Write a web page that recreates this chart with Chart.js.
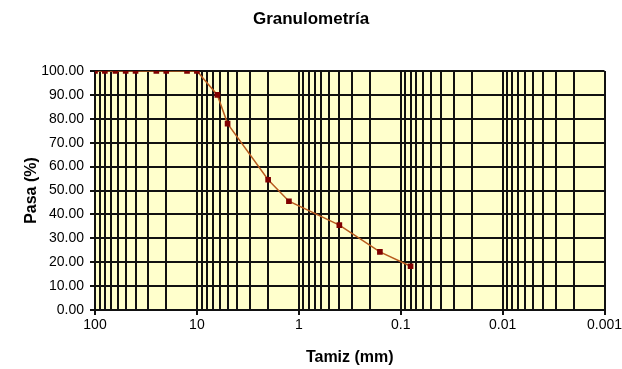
<!DOCTYPE html>
<html>
<head>
<meta charset="utf-8">
<script src="https://cdn.jsdelivr.net/npm/chart.js@4/dist/chart.umd.min.js"></script>
<style>
html,body{margin:0;padding:0;background:#fff;}
#wrap{width:622px;height:369px;position:relative;}
</style>
</head>
<body>
<div id="wrap"><canvas id="c" width="622" height="369"></canvas></div>
<script>
const sieveSizes = [100, 80, 63, 50, 40, 25, 20, 12.5, 10, 6.3, 5, 2, 1.25, 0.4, 0.16, 0.08];
const passing    = [100, 100, 100, 100, 100, 100, 100, 100, 100, 90.0, 78.0, 54.5, 45.5, 35.5, 24.3, 18.3];
const xTickLabels = ['100', '10', '1', '0.1', '0.01', '0.001'];
const yTickValues = [0, 10, 20, 30, 40, 50, 60, 70, 80, 90, 100];

const points = sieveSizes.map((s, i) => ({x: s, y: passing[i]}));
const decades = xTickLabels.map(Number);
const isDecade = v => decades.some(d => Math.abs(v - d) / d < 1e-6);
const FONT = '"Liberation Sans", Arial, sans-serif';
const GRID = '#111';

const plotBg = {
  id: 'plotBg',
  beforeDraw(chart) {
    const {ctx, chartArea: a} = chart;
    ctx.save();
    ctx.fillStyle = '#FFFFCC';
    ctx.fillRect(a.left, a.top, a.right - a.left, a.bottom - a.top);
    ctx.restore();
  }
};

new Chart(document.getElementById('c'), {
  type: 'line',
  data: {
    datasets: [{
      data: points,
      borderColor: '#B85C1E',
      borderWidth: 1.5,
      pointStyle: 'rect',
      pointRadius: 4,
      pointBackgroundColor: '#800000',
      pointBorderColor: '#800000',
      pointBorderWidth: 0,
      tension: 0,
      fill: false
    }]
  },
  options: {
    responsive: false,
    animation: false,
    layout: {padding: {left: 0, right: 0, top: 0, bottom: 0}},
    plugins: {
      legend: {display: false},
      tooltip: {enabled: false},
      title: {
        display: true,
        text: 'Granulometría',
        color: '#000',
        font: {family: FONT, size: 17, weight: 'bold'},
        padding: {top: 9, bottom: 41.6}
      }
    },
    scales: {
      x: {
        type: 'logarithmic',
        reverse: true,
        min: 0.001,
        max: 100,
        afterBuildTicks(scale) {
          const t = [];
          for (let e = -3; e <= 1; e++) {
            for (let m = 1; m <= 9; m++) {
              t.push({value: m * Math.pow(10, e)});
            }
          }
          t.push({value: 100});
          scale.ticks = t;
        },
        afterFit(scale) {
          scale.height = 59;
          scale.paddingRight = 17.5;
          scale.paddingLeft = 0;
        },
        ticks: {
          autoSkip: false,
          maxRotation: 0,
          padding: 2,
          color: '#000',
          font: {family: FONT, size: 14},
          callback(v) {
            const i = decades.findIndex(d => Math.abs(v - d) / d < 1e-6);
            return i >= 0 ? xTickLabels[i] : '';
          }
        },
        grid: {
          color: GRID,
          lineWidth: 2,
          tickLength: 5,
          tickColor: ctx => (ctx.tick && isDecade(ctx.tick.value)) ? GRID : 'rgba(0,0,0,0)'
        },
        border: {color: GRID, width: 2},
        title: {
          display: true,
          text: 'Tamiz (mm)',
          color: '#000',
          font: {family: FONT, size: 16, weight: 'bold'},
          padding: {top: 0, bottom: 1.4}
        }
      },
      y: {
        min: 0,
        max: 100,
        afterBuildTicks(scale) {
          scale.ticks = yTickValues.map(v => ({value: v}));
        },
        afterFit(scale) { scale.width = 95; },
        ticks: {
          padding: 6,
          color: '#000',
          font: {family: FONT, size: 14},
          callback: v => Number(v).toFixed(2)
        },
        grid: {
          color: GRID,
          lineWidth: 2,
          tickLength: 5
        },
        border: {color: GRID, width: 2},
        title: {
          display: true,
          text: 'Pasa (%)',
          color: '#000',
          font: {family: FONT, size: 16, weight: 'bold'},
          padding: {top: 22, bottom: 0}
        }
      }
    }
  },
  plugins: [plotBg]
});
</script>
</body>
</html>
